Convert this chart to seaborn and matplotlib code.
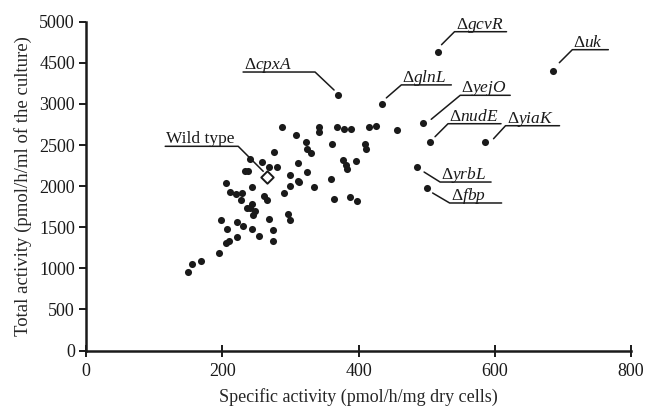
import numpy as np
import matplotlib
matplotlib.use("Agg")
import matplotlib.pyplot as plt
from matplotlib.lines import Line2D
from matplotlib.transforms import IdentityTransform
import seaborn as sns

# ── Data ─────────────────────────────────────────────────────────────────────
specific_activity = [
    287, 308, 342, 342, 369, 323, 325, 331, 361, 276, 240, 259, 268, 281, 311,
    234, 238, 324, 300, 311, 313, 360, 206, 244, 299, 334, 212, 220, 229, 290,
    262, 265, 228, 364, 243, 241, 236, 248, 245, 297, 300, 198, 222, 230, 268,
    207, 244, 274, 254, 221, 210, 206, 274, 195, 169, 156, 149, 379, 389, 416,
    426, 409, 411, 377, 382, 383, 397, 387, 398, 456,
]
total_activity = [
    2715, 2622, 2715, 2662, 2713, 2533, 2448, 2403, 2512, 2415, 2330, 2293, 2236, 2232, 2285,
    2184, 2184, 2168, 2129, 2062, 2054, 2086, 2034, 1989, 2001, 1987, 1926, 1900, 1918, 1912,
    1880, 1831, 1831, 1839, 1785, 1730, 1730, 1701, 1653, 1661, 1588, 1584, 1560, 1518, 1594,
    1476, 1476, 1464, 1393, 1377, 1336, 1304, 1332, 1190, 1086, 1049, 955, 2698, 2698, 2713,
    2731, 2512, 2448, 2314, 2257, 2208, 2309, 1864, 1813, 2683,
]

wt_specific = [266]
wt_total = [2107]

mutant_names = ["cpxA", "gcvR", "glnL", "yejO", "nudE", "yiaK", "yrbL", "fbp", "uk"]
mutant_specific = [370, 516, 435, 495, 505, 585, 486, 500, 686]
mutant_total = [3324, 4635, 3000, 2764, 2540, 2540, 2232, 1977, 4212]

x_ticks = [0, 200, 400, 600, 800]
y_ticks = [0, 500, 1000, 1500, 2000, 2500, 3000, 4500, 5000]

# ── Label layout: leader start, elbow, underline length (pixels, y down) ────
LABEL_LAYOUT = {
    "cpxA": (-4, -5, -23, -23, -72),
    "gcvR": (4, -7, 17, -20, 52),
    "glnL": (4, -6, 19, -19, 50),
    "yejO": (8, -4, 37, -28, 50),
    "nudE": (5, -5, 18, -18, 53),
    "yiaK": (9, -3, 21, -16, 54),
    "yrbL": (7, 5, 23, 15, 51),
    "fbp": (6, 5, 23, 15, 52),
    "uk": (6, -8, 19, -21, 36),
    "WT": (-4, -6, -29, -31, -73),
}

FONT = "Liberation Serif"
INK = "#1a1a1a"


def _fwd(y):
    y = np.asarray(y, dtype=float)
    return np.where(y <= 3000, y,
                    np.where(y <= 4500, 3000 + (y - 3000) / 3, 3500 + (y - 4500)))


def _inv(t):
    t = np.asarray(t, dtype=float)
    return np.where(t <= 3000, t,
                    np.where(t <= 3500, 3000 + (t - 3000) * 3, 4500 + (t - 3500)))


sns.set_theme(style="ticks")
plt.rcParams.update({
    "font.family": [FONT, "DejaVu Serif"],
    "mathtext.fontset": "custom",
    "mathtext.rm": FONT,
    "mathtext.it": FONT + ":italic",
    "axes.edgecolor": INK,
    "xtick.color": INK,
    "ytick.color": INK,
    "text.color": INK,
})

fig = plt.figure(figsize=(6.46, 4.08), dpi=100)
fig.patch.set_facecolor("white")
ax = fig.add_axes([86 / 646, 57.5 / 408, 545 / 646, 328.8 / 408])
ax.set_facecolor("white")

sns.scatterplot(x=specific_activity, y=total_activity, ax=ax, color=INK,
                s=26, linewidth=0, zorder=3)
sns.scatterplot(x=mutant_specific, y=mutant_total, ax=ax, color=INK,
                s=26, linewidth=0, zorder=3)
sns.scatterplot(x=wt_specific, y=wt_total, ax=ax, marker="D", color="white",
                edgecolor=INK, s=40, linewidth=1.4, zorder=4)

ax.set_yscale("function", functions=(_fwd, _inv))
ax.set_xlim(0, 800)
ax.set_ylim(0, 5000)
ax.set_xticks(x_ticks)
ax.set_yticks(y_ticks)
ax.set_xticklabels([str(v) for v in x_ticks], fontsize=13)
ax.set_yticklabels([str(v) for v in y_ticks], fontsize=13)
ax.tick_params(axis="x", direction="inout", length=8, width=1.4, pad=5)
ax.tick_params(axis="y", direction="out", length=5, width=1.4, pad=3)
ax.minorticks_off()
sns.despine(ax=ax)
for side in ("left", "bottom"):
    ax.spines[side].set_linewidth(1.8)
ax.set_xlabel("Specific activity (pmol/h/mg dry cells)", fontsize=13, labelpad=6)
ax.set_ylabel("Total activity (pmol/h/ml of the culture)", fontsize=13.5, labelpad=5)

# ── Leader lines and underlined labels ───────────────────────────────────────
fig.canvas.draw()
ident = IdentityTransform()
points = [("WT", wt_specific[0], wt_total[0])] + list(zip(mutant_names, mutant_specific, mutant_total))
for name, xv, yv in points:
    sx, sy, ex, ey, length = LABEL_LAYOUT[name]
    px, py = ax.transData.transform((xv, yv))
    xs = [px + sx, px + ex, px + ex + length]
    ys = [py - sy, py - ey, py - ey]
    ax.add_line(Line2D(xs, ys, transform=ident, color=INK, lw=1.1, clip_on=False))
    left = min(px + ex, px + ex + length)
    label = "Wild type" if name == "WT" else r"$\Delta\mathit{" + name + "}$"
    ax.text(left + 1, py - ey + 3, label, transform=ident, fontsize=12.5,
            ha="left", va="baseline")

fig.savefig("out.png", dpi=100, facecolor="white")
